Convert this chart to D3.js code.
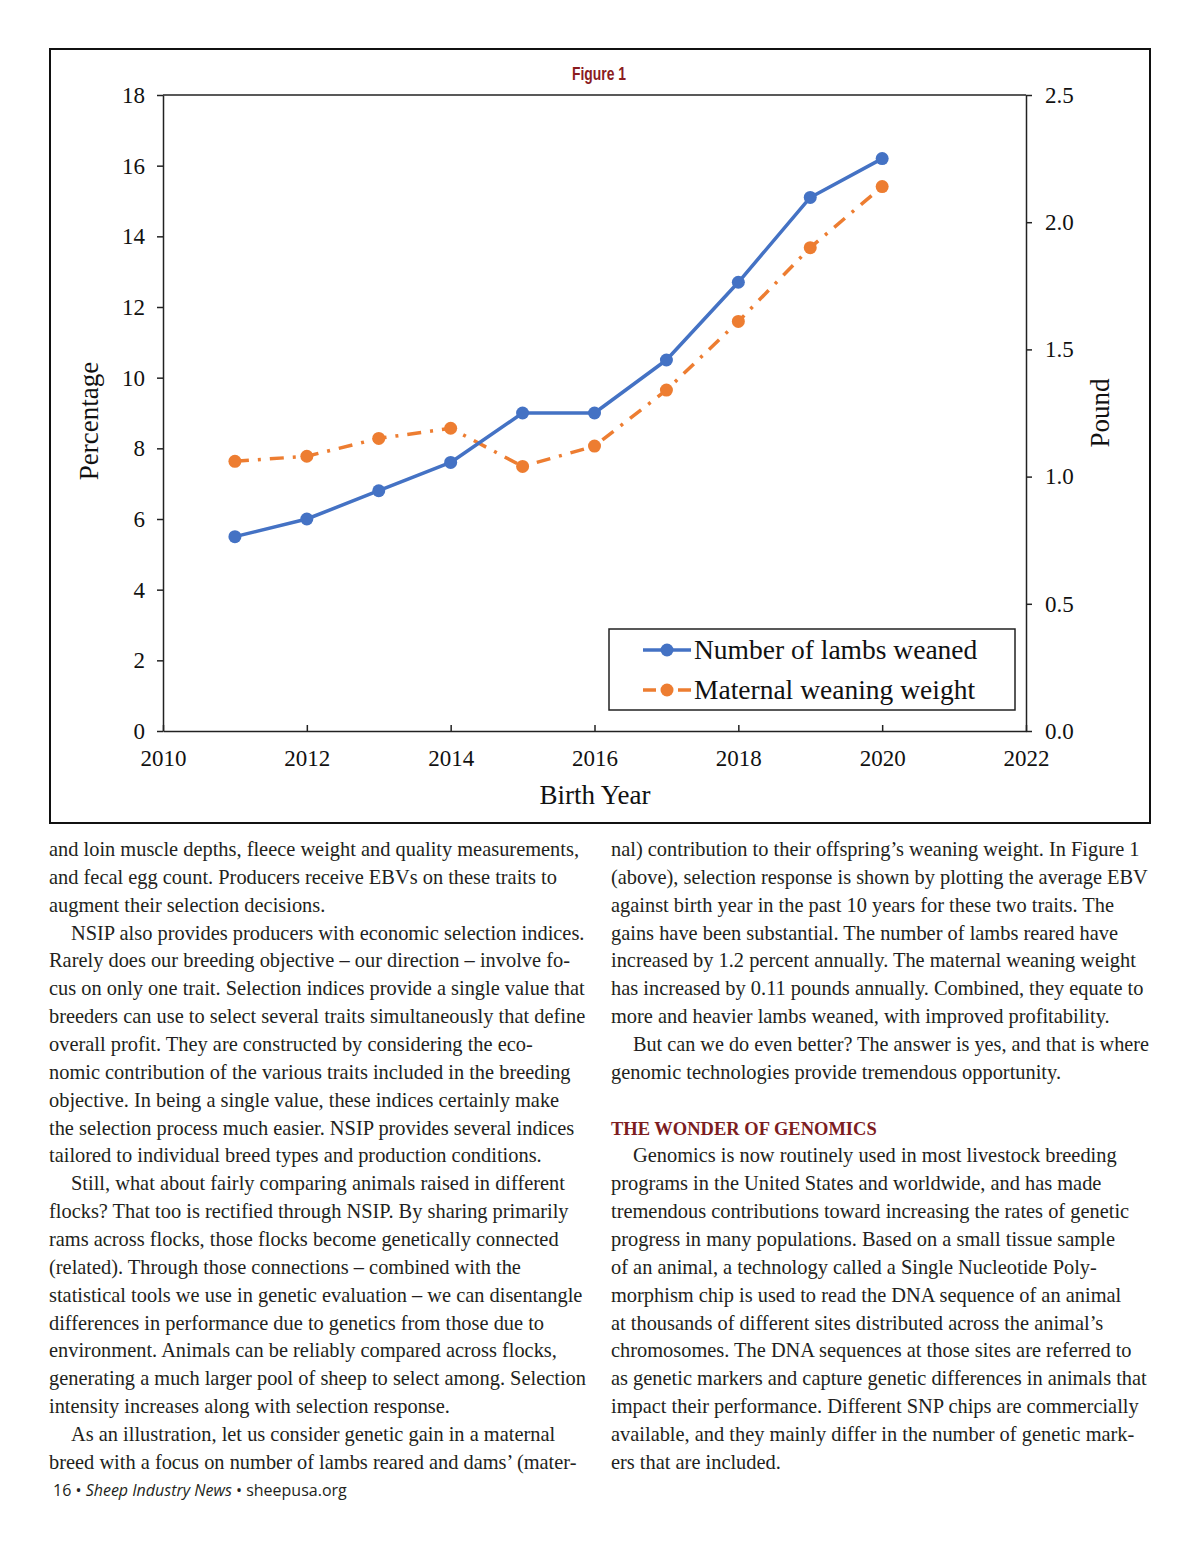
<!DOCTYPE html>
<html>
<head>
<meta charset="utf-8">
<script src="https://cdn.jsdelivr.net/npm/d3@7"></script>
<style>
  body { margin: 0; background: #fff; }
  svg { display: block; }
</style>
</head>
<body>
<svg id="page" width="1200" height="1558"></svg>
<script>
// DATA
const years = [2011, 2012, 2013, 2014, 2015, 2016, 2017, 2018, 2019, 2020];
const lambsWeaned = [5.5, 6.0, 6.8, 7.6, 9.0, 9.0, 10.5, 12.7, 15.1, 16.2];
const weaningWeight = [1.06, 1.08, 1.15, 1.19, 1.04, 1.12, 1.34, 1.61, 1.90, 2.14];
const xTicks = [2010, 2012, 2014, 2016, 2018, 2020, 2022];
const leftTicks = [0, 2, 4, 6, 8, 10, 12, 14, 16, 18];
const rightTicks = [0, 0.5, 1.0, 1.5, 2.0, 2.5];
const seriesNames = ["Number of lambs weaned", "Maternal weaning weight"];

const leftCol = [
  "and loin muscle depths, fleece weight and quality measurements,",
  "and fecal egg count. Producers receive EBVs on these traits to",
  "augment their selection decisions.",
  "\tNSIP also provides producers with economic selection indices.",
  "Rarely does our breeding objective – our direction – involve fo-",
  "cus on only one trait. Selection indices provide a single value that",
  "breeders can use to select several traits simultaneously that define",
  "overall profit. They are constructed by considering the eco-",
  "nomic contribution of the various traits included in the breeding",
  "objective. In being a single value, these indices certainly make",
  "the selection process much easier. NSIP provides several indices",
  "tailored to individual breed types and production conditions.",
  "\tStill, what about fairly comparing animals raised in different",
  "flocks? That too is rectified through NSIP. By sharing primarily",
  "rams across flocks, those flocks become genetically connected",
  "(related). Through those connections – combined with the",
  "statistical tools we use in genetic evaluation – we can disentangle",
  "differences in performance due to genetics from those due to",
  "environment. Animals can be reliably compared across flocks,",
  "generating a much larger pool of sheep to select among. Selection",
  "intensity increases along with selection response.",
  "\tAs an illustration, let us consider genetic gain in a maternal",
  "breed with a focus on number of lambs reared and dams’ (mater-"
];
const rightCol = [
  "nal) contribution to their offspring’s weaning weight. In Figure 1",
  "(above), selection response is shown by plotting the average EBV",
  "against birth year in the past 10 years for these two traits. The",
  "gains have been substantial. The number of lambs reared have",
  "increased by 1.2 percent annually. The maternal weaning weight",
  "has increased by 0.11 pounds annually. Combined, they equate to",
  "more and heavier lambs weaned, with improved profitability.",
  "\tBut can we do even better? The answer is yes, and that is where",
  "genomic technologies provide tremendous opportunity.",
  "",
  "#THE WONDER OF GENOMICS",
  "\tGenomics is now routinely used in most livestock breeding",
  "programs in the United States and worldwide, and has made",
  "tremendous contributions toward increasing the rates of genetic",
  "progress in many populations. Based on a small tissue sample",
  "of an animal, a technology called a Single Nucleotide Poly-",
  "morphism chip is used to read the DNA sequence of an animal",
  "at thousands of different sites distributed across the animal’s",
  "chromosomes. The DNA sequences at those sites are referred to",
  "as genetic markers and capture genetic differences in animals that",
  "impact their performance. Different SNP chips are commercially",
  "available, and they mainly differ in the number of genetic mark-",
  "ers that are included."
];

// CHART
const svg = d3.select("#page");
const serif = "'Liberation Serif', 'Times New Roman', serif";
const blue = "#4472c4";
const orange = "#ed7d31";

svg.append("rect")
  .attr("x", 50).attr("y", 49).attr("width", 1100).attr("height", 774)
  .attr("fill", "none").attr("stroke", "#111").attr("stroke-width", 2);

svg.append("text")
  .attr("x", 572).attr("y", 80)
  .attr("font-family", "'Liberation Sans', 'Open Sans', sans-serif")
  .attr("font-weight", "bold")
  .attr("font-size", 19)
  .attr("fill", "#8b1c1f")
  .attr("textLength", 54).attr("lengthAdjust", "spacingAndGlyphs")
  .text("Figure 1");

const x = d3.scaleLinear().domain([2010, 2022]).range([163, 1026]);
const yL = d3.scaleLinear().domain([0, 18]).range([731, 95]);
const yR = d3.scaleLinear().domain([0, 2.5]).range([731, 95]);

const styleAxis = g => {
  g.attr("font-family", null).attr("font-size", null);
  g.selectAll("path, line").attr("stroke", "#222").attr("stroke-width", 1.5);
  g.selectAll("text")
    .style("font-family", serif).style("font-size", "23px").attr("fill", "#111");
};

// top border of the plot
svg.append("line")
  .attr("x1", x(2010)).attr("x2", x(2022)).attr("y1", yL(18)).attr("y2", yL(18))
  .attr("stroke", "#222").attr("stroke-width", 1.5);

svg.append("g")
  .attr("transform", `translate(0,${yL(0)})`)
  .call(d3.axisBottom(x).tickValues(xTicks).tickFormat(d3.format("d"))
    .tickSizeInner(-6).tickSizeOuter(0).tickPadding(19))
  .call(styleAxis);

svg.append("g")
  .attr("transform", `translate(${x(2010)},0)`)
  .call(d3.axisLeft(yL).tickValues(leftTicks).tickSizeInner(6).tickSizeOuter(0).tickPadding(12))
  .call(styleAxis);

svg.append("g")
  .attr("transform", `translate(${x(2022)},0)`)
  .call(d3.axisRight(yR).tickValues(rightTicks).tickFormat(d3.format(".1f"))
    .tickSizeInner(6).tickSizeOuter(0).tickPadding(13))
  .call(styleAxis);

svg.append("text")
  .attr("x", 595).attr("y", 804)
  .attr("text-anchor", "middle")
  .attr("font-family", serif).attr("font-size", 27).attr("fill", "#111")
  .text("Birth Year");

svg.append("text")
  .attr("transform", "translate(98,421) rotate(-90)")
  .attr("text-anchor", "middle")
  .attr("font-family", serif).attr("font-size", 27).attr("fill", "#111")
  .text("Percentage");

svg.append("text")
  .attr("transform", "translate(1109,413) rotate(-90)")
  .attr("text-anchor", "middle")
  .attr("font-family", serif).attr("font-size", 27).attr("fill", "#111")
  .text("Pound");

const lambsPts = years.map((yr, i) => [x(yr), yL(lambsWeaned[i])]);
const weightPts = years.map((yr, i) => [x(yr), yR(weaningWeight[i])]);
const line = d3.line();

svg.append("path")
  .attr("d", line(weightPts))
  .attr("fill", "none").attr("stroke", orange).attr("stroke-width", 3.5)
  .attr("stroke-dasharray", "14,9,3,9");
svg.append("g").selectAll("circle").data(weightPts).join("circle")
  .attr("cx", d => d[0]).attr("cy", d => d[1]).attr("r", 6.5).attr("fill", orange);

svg.append("path")
  .attr("d", line(lambsPts))
  .attr("fill", "none").attr("stroke", blue).attr("stroke-width", 3.5)
  .attr("stroke-linejoin", "round");
svg.append("g").selectAll("circle").data(lambsPts).join("circle")
  .attr("cx", d => d[0]).attr("cy", d => d[1]).attr("r", 6.5).attr("fill", blue);

// legend
const legend = svg.append("g").attr("transform", "translate(609,629)");
legend.append("rect")
  .attr("width", 406).attr("height", 81)
  .attr("fill", "#fff").attr("stroke", "#222").attr("stroke-width", 1.5);
const legItems = legend.selectAll("g.item").data(seriesNames).join("g")
  .attr("class", "item")
  .attr("transform", (d, i) => `translate(0,${21 + i * 40})`);
legItems.append("line")
  .attr("x1", 34).attr("x2", 82).attr("y1", 0).attr("y2", 0)
  .attr("stroke", (d, i) => i ? orange : blue).attr("stroke-width", 3.5)
  .attr("stroke-dasharray", (d, i) => i ? "13,22,13" : null);
legItems.append("circle")
  .attr("cx", 58).attr("r", 6.5).attr("fill", (d, i) => i ? orange : blue);
legItems.append("text")
  .attr("x", 85).attr("y", 9)
  .attr("font-family", serif).attr("font-size", 27.5).attr("fill", "#111")
  .text(d => d);

// BODY TEXT
const bodyFont = "'Liberation Serif', 'Times New Roman', serif";
const lineStep = 27.86;
const colWidth = 538;

function drawColumn(lines, x0) {
  const g = svg.append("g");
  lines.forEach((ln, i) => {
    if (!ln) return;
    const yy = 856 + i * lineStep;
    if (ln.startsWith("#")) {
      g.append("text")
        .attr("x", x0).attr("y", yy)
        .attr("font-family", bodyFont).attr("font-weight", "bold")
        .attr("font-size", 18.5).attr("fill", "#7d1d1f")
        .text(ln.slice(1));
      return;
    }
    const indent = ln.startsWith("\t") ? 22 : 0;
    const t = g.append("text")
      .attr("x", x0 + indent).attr("y", yy)
      .attr("font-family", bodyFont).attr("font-size", 20.4).attr("fill", "#231f20")
      .text(ln.replace("\t", ""));
    const w = t.node().getComputedTextLength();
    const avail = colWidth - indent;
    if (w > avail) t.attr("textLength", avail).attr("lengthAdjust", "spacingAndGlyphs");
  });
}
drawColumn(leftCol, 49);
drawColumn(rightCol, 611);

// footer
const foot = svg.append("text")
  .attr("x", 53).attr("y", 1496)
  .attr("font-family", "'Open Sans', 'Noto Sans', sans-serif")
  .attr("font-size", 16).attr("fill", "#231f20");
foot.append("tspan").text("16 • ");
foot.append("tspan").attr("font-style", "italic").text("Sheep Industry News");
foot.append("tspan").text("  • sheepusa.org");
</script>
</body>
</html>
